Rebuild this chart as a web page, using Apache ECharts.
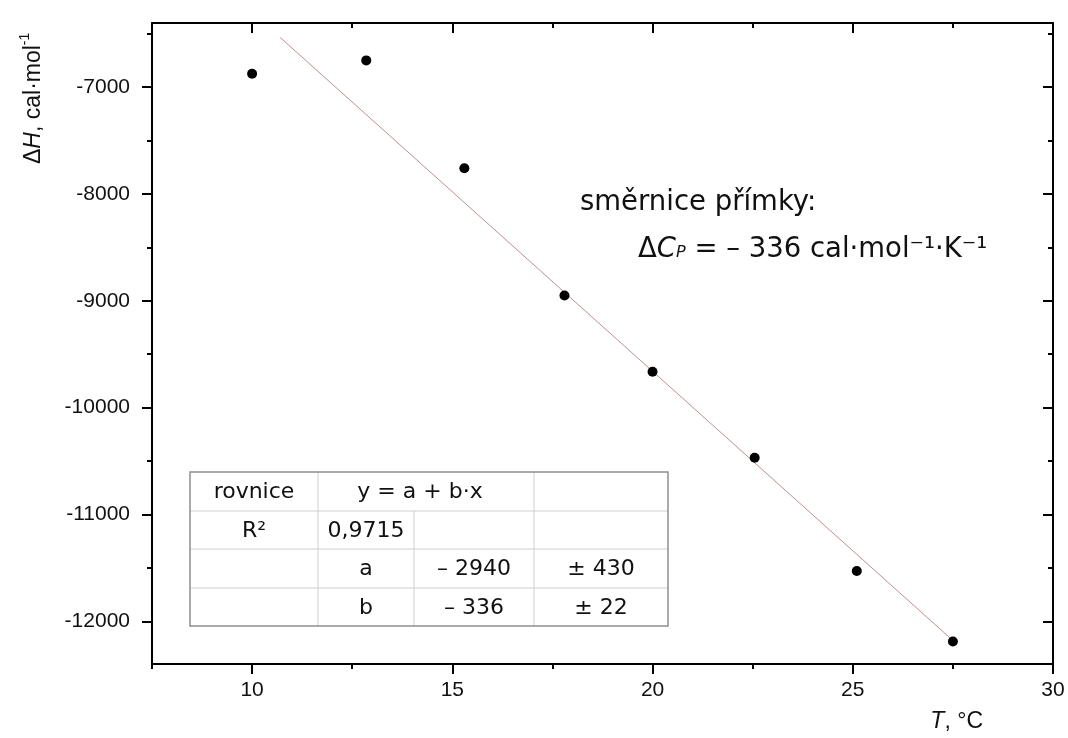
<!DOCTYPE html>
<html>
<head>
<meta charset="utf-8">
<title>ΔH vs T</title>
<script src="https://cdn.jsdelivr.net/npm/echarts@6/dist/echarts.min.js"></script>
<style>
  html, body { margin: 0; padding: 0; background: #fff; }
  #chart { width: 1068px; height: 738px; }
</style>
</head>
<body>
<div id="chart"></div>
<script>
// Measured reaction enthalpy at each temperature
const temps = [10.0, 12.85, 15.3, 17.8, 20.0, 22.55, 25.1, 27.5];
const deltaH = [-6875, -6750, -7760, -8950, -9665, -10470, -11530, -12190];

// Linear fit y = a + b·x and the x span over which it is drawn
const fitA = -2940;
const fitB = -336;
const fitSpan = [10.7, 27.5];

// Axis ranges and tick positions
const xRange = [7.5, 30];
const yRange = [-12400, -6400];
const xMajor = [10, 15, 20, 25, 30];
const xMinor = [7.5, 12.5, 17.5, 22.5, 27.5];
const yMajor = [-12000, -11000, -10000, -9000, -8000, -7000];
const yMinor = [-11500, -10500, -9500, -8500, -7500, -6500];

// Fit results table (null marks a cell merged into its left neighbour)
const tableRows = [
  ['rovnice', 'y = a + b·x', null, ''],
  ['R²', '0,9715', '', ''],
  ['', 'a', '– 2940', '± 430'],
  ['', 'b', '– 336', '± 22']
];

const annotationLine1 = 'směrnice přímky:';
const annotationLine2 = '{d|Δ}{c|C}{p|P}{r| = – 336 cal·mol⁻¹·K⁻¹}';

const fitLine = fitSpan.map(x => [x, fitA + fitB * x]);
const points = temps.map((t, i) => [t, deltaH[i]]);

const AXIS_FONT = 'Liberation Sans';
const TABLE_FONT = 'DejaVu Sans';
const black = '#000';
const ink = '#111';

function xAxisDef(position, ticks, len, inside, showLine, showLabel) {
  return {
    type: 'value', position, min: xRange[0], max: xRange[1],
    axisLine: { show: showLine, onZero: false, lineStyle: { color: black, width: 2 } },
    axisTick: { show: true, inside, length: len, customValues: ticks, lineStyle: { color: black, width: 2 } },
    axisLabel: showLabel ? {
      show: true, customValues: ticks, margin: 16, fontSize: 21, fontFamily: AXIS_FONT,
      color: ink, formatter: v => String(v)
    } : { show: false },
    splitLine: { show: false }
  };
}
function yAxisDef(position, ticks, len, inside, showLine, showLabel) {
  return {
    type: 'value', position, min: yRange[0], max: yRange[1],
    axisLine: { show: showLine, onZero: false, lineStyle: { color: black, width: 2 } },
    axisTick: { show: true, inside, length: len, customValues: ticks, lineStyle: { color: black, width: 2 } },
    axisLabel: showLabel ? {
      show: true, customValues: ticks, margin: 22, fontSize: 21, fontFamily: AXIS_FONT,
      color: ink, formatter: v => String(v)
    } : { show: false },
    splitLine: { show: false }
  };
}

// Table geometry
const colEdges = [190, 318, 414, 534, 668];
const rowEdges = [472, 511, 549, 588, 626];

function buildTable() {
  const els = [];
  const outer = '#8f8f8f', inner = '#cfcfcf';
  // inner horizontal lines
  for (let r = 1; r < rowEdges.length - 1; r++) {
    els.push({ type: 'line', shape: { x1: colEdges[0], y1: rowEdges[r], x2: colEdges[4], y2: rowEdges[r] },
      style: { stroke: inner, lineWidth: 1 }, silent: true });
  }
  // inner vertical lines, skipping merged cells
  for (let c = 1; c < colEdges.length - 1; c++) {
    for (let r = 0; r < tableRows.length; r++) {
      if (tableRows[r][c] === null) continue;
      els.push({ type: 'line', shape: { x1: colEdges[c], y1: rowEdges[r], x2: colEdges[c], y2: rowEdges[r + 1] },
        style: { stroke: inner, lineWidth: 1 }, silent: true });
    }
  }
  els.push({ type: 'rect', shape: { x: colEdges[0], y: rowEdges[0], width: colEdges[4] - colEdges[0], height: rowEdges[4] - rowEdges[0] },
    style: { fill: 'none', stroke: outer, lineWidth: 1.5 }, silent: true });
  // cell texts
  tableRows.forEach((row, r) => {
    row.forEach((txt, c) => {
      if (!txt) return;
      let right = colEdges[c + 1];
      let shift = 0;
      if (row[c + 1] === null) { right = colEdges[c + 2]; shift = -6; }
      els.push({ type: 'text', x: (colEdges[c] + right) / 2 + shift, y: (rowEdges[r] + rowEdges[r + 1]) / 2 + 1,
        style: { text: txt, fontSize: 22, fontFamily: TABLE_FONT, fill: ink,
          align: 'center', verticalAlign: 'middle', textAlign: 'center', textVerticalAlign: 'middle' }, silent: true });
    });
  });
  return els;
}

const chart = echarts.init(document.getElementById('chart'), null, { renderer: 'canvas' });
chart.setOption({
  animation: false,
  backgroundColor: '#fff',
  grid: { left: 152, right: 15, top: 23, bottom: 74, containLabel: false, outerBoundsMode: 'none' },
  xAxis: [
    xAxisDef('bottom', xMajor, 10, false, true, true),
    xAxisDef('bottom', xMinor, 5, false, false, false),
    xAxisDef('top', xMajor, 10, true, true, false),
    xAxisDef('top', xMinor, 5, true, false, false)
  ],
  yAxis: [
    yAxisDef('left', yMajor, 10, false, true, true),
    yAxisDef('left', yMinor, 5, false, false, false),
    yAxisDef('right', yMajor, 10, true, true, false),
    yAxisDef('right', yMinor, 5, true, false, false)
  ],
  series: [
    {
      type: 'line', data: fitLine, xAxisIndex: 0, yAxisIndex: 0,
      showSymbol: false, symbol: 'none', silent: true,
      lineStyle: { color: '#bf8f8f', width: 1 }, z: 2
    },
    {
      type: 'scatter', data: points, xAxisIndex: 0, yAxisIndex: 0,
      symbol: 'circle', symbolSize: 10, itemStyle: { color: black, opacity: 1 }, z: 3
    }
  ],
  graphic: [
    ...buildTable(),
    { type: 'text', x: 580, y: 203, silent: true,
      style: { text: annotationLine1, fontSize: 27.5, fontFamily: TABLE_FONT, fill: ink,
        align: 'left', verticalAlign: 'middle', textAlign: 'left', textVerticalAlign: 'middle' } },
    { type: 'text', x: 638, y: 250, silent: true,
      style: { text: annotationLine2, fontSize: 27.5, fontFamily: TABLE_FONT, fill: ink,
        align: 'left', verticalAlign: 'middle', textAlign: 'left', textVerticalAlign: 'middle',
        rich: {
          d: { fontSize: 27.5, fontFamily: TABLE_FONT, fill: ink },
          c: { fontSize: 27.5, fontFamily: TABLE_FONT, fontStyle: 'italic', fill: ink },
          p: { fontSize: 16, fontFamily: TABLE_FONT, fontStyle: 'italic', fill: ink, verticalAlign: 'bottom', padding: [0, 0, 3, 0] },
          r: { fontSize: 27.5, fontFamily: TABLE_FONT, fill: ink }
        } } },
    // x axis title
    { type: 'text', x: 983, y: 722, silent: true,
      style: { text: '{i|T}{n|, °C}', align: 'right', verticalAlign: 'middle', textAlign: 'right', textVerticalAlign: 'middle',
        rich: {
          i: { fontSize: 23, fontFamily: AXIS_FONT, fontStyle: 'italic', fill: ink },
          n: { fontSize: 23, fontFamily: AXIS_FONT, fill: ink }
        } } },
    // y axis title
    { type: 'text', x: 34, y: 164, rotation: Math.PI / 2, silent: true,
      style: { text: '{n|Δ}{i|H}{n|, cal·mol}{s|-1}', align: 'left', verticalAlign: 'middle', textAlign: 'left', textVerticalAlign: 'middle',
        rich: {
          n: { fontSize: 23, fontFamily: AXIS_FONT, fill: ink, lineHeight: 32 },
          i: { fontSize: 23, fontFamily: AXIS_FONT, fontStyle: 'italic', fill: ink, lineHeight: 32 },
          s: { fontSize: 14, fontFamily: AXIS_FONT, fill: ink, verticalAlign: 'top' }
        } } }
  ]
});
</script>
</body>
</html>
